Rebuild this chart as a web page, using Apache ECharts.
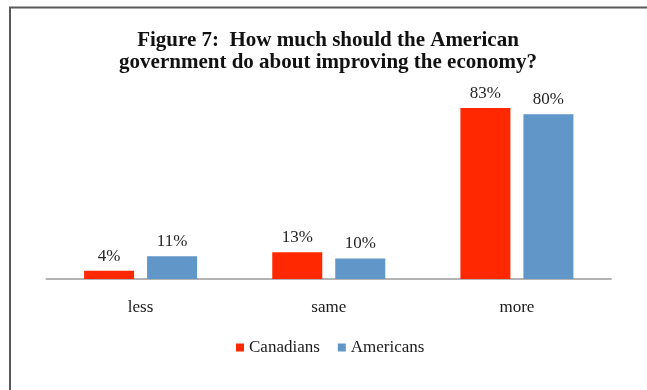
<!DOCTYPE html>
<html>
<head>
<meta charset="utf-8">
<script src="https://cdn.jsdelivr.net/npm/echarts@6/dist/echarts.min.js"></script>
<style>
  html, body { margin: 0; padding: 0; background: #fff; }
  #chart { width: 647px; height: 390px; }
</style>
</head>
<body>
<div id="chart"></div>
<script>
// Survey answers, in percent
const categories = ['less', 'same', 'more'];
const canadians = [4, 13, 83];
const americans = [11, 10, 80];
const seriesNames = ['Canadians', 'Americans'];
const titleText = 'Figure 7:  How much should the American\ngovernment do about improving the economy?';

const serif = '"Liberation Serif", "DejaVu Serif", serif';
const chart = echarts.init(document.getElementById('chart'));

const labelStyle = {
  show: true,
  position: 'top',
  distance: 6,
  formatter: p => p.value + '%',
  fontFamily: serif,
  fontSize: 17,
  color: '#262626'
};

chart.setOption({
  animation: false,
  backgroundColor: '#fff',
  legend: {
    data: seriesNames,
    bottom: 29,
    left: 231,
    icon: 'rect',
    itemWidth: 8,
    itemHeight: 8,
    itemGap: 18,
    textStyle: { fontFamily: serif, fontSize: 17, color: '#1a1a1a' }
  },
  grid: { left: 46.5, right: 36, top: 73, bottom: 111, containLabel: false },
  xAxis: {
    type: 'category',
    data: categories,
    axisLine: { lineStyle: { color: '#b3b3b3', width: 2 } },
    axisTick: { show: false },
    axisLabel: { fontFamily: serif, fontSize: 17, color: '#1a1a1a', margin: 20 }
  },
  yAxis: {
    type: 'value',
    min: 0,
    max: 100,
    show: false,
    splitLine: { show: false }
  },
  series: [
    {
      name: seriesNames[0],
      type: 'bar',
      data: canadians,
      barWidth: 50,
      barGap: '26%',
      itemStyle: { color: '#FF2800' },
      label: labelStyle
    },
    {
      name: seriesNames[1],
      type: 'bar',
      data: americans,
      barWidth: 50,
      itemStyle: { color: '#6196C9' },
      label: labelStyle
    }
  ],
  graphic: [
    {
      type: 'polyline',
      shape: { points: [[10, 390], [10, 7.5], [647, 7.5]] },
      style: { stroke: '#5a5a5a', lineWidth: 2, fill: null },
      silent: true
    },
    {
      type: 'text',
      x: 328,
      y: 30,
      silent: true,
      style: {
        text: titleText,
        align: 'center',
        verticalAlign: 'top',
        font: 'bold 21px ' + serif,
        lineHeight: 22,
        fill: '#111'
      }
    }
  ]
});
</script>
</body>
</html>
